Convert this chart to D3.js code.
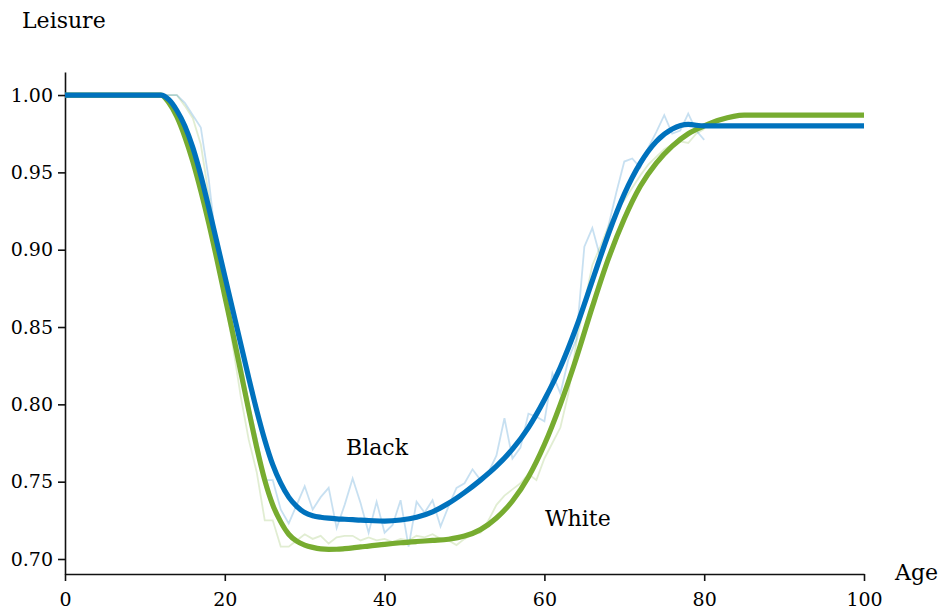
<!DOCTYPE html>
<html lang="en">
<head>
<meta charset="UTF-8">
<title>Leisure by age</title>
<script src="https://cdn.jsdelivr.net/npm/d3@7"></script>
<style>
    body { margin: 0; background: #fff; }
    svg text { font-family: "DejaVu Serif", serif; fill: #000; }
</style>
</head>
<body>
<div id="graphic"></div>
<script>
    // smooth (fitted) curves
    var smoothAges = [0, 12, 13, 14, 15, 16, 17, 18, 19, 20, 21, 22, 23, 24, 25, 26, 27, 28, 29, 30,
        31, 32, 33, 34, 35, 36, 37, 38, 40, 42, 44, 46, 48, 50, 52, 54, 56, 58, 60, 62, 64, 66, 68,
        70, 72, 74, 76, 78, 80, 82, 85, 100];
    var blackSmooth = [1.000, 1.000, 0.997, 0.990, 0.980, 0.966, 0.948, 0.927, 0.905, 0.883, 0.861,
        0.839, 0.817, 0.796, 0.777, 0.761, 0.749, 0.740, 0.734, 0.730, 0.728, 0.727, 0.7264, 0.726,
        0.7257, 0.7254, 0.7251, 0.7249, 0.7245, 0.7252, 0.727, 0.7305, 0.736, 0.743, 0.751, 0.760,
        0.771, 0.785, 0.803, 0.824, 0.850, 0.880, 0.910, 0.936, 0.956, 0.970, 0.978, 0.981, 0.980,
        0.980, 0.980, 0.980];
    var whiteSmooth = [1.000, 1.000, 0.995, 0.986, 0.973, 0.957, 0.938, 0.917, 0.894, 0.870, 0.846,
        0.821, 0.796, 0.772, 0.751, 0.735, 0.724, 0.716, 0.7115, 0.709, 0.7075, 0.7065, 0.7062,
        0.7063, 0.7067, 0.7072, 0.7078, 0.7083, 0.7095, 0.7105, 0.7113, 0.712, 0.7128, 0.7148,
        0.719, 0.7265, 0.7375, 0.753, 0.774, 0.800, 0.830, 0.863, 0.894, 0.920, 0.941, 0.956, 0.967,
        0.975, 0.980, 0.984, 0.987, 0.987];

    // raw yearly averages (faint lines), ages 0..80
    var rawAges = d3.range(0, 81);
    var blackRaw = [1, 1, 1, 1, 1, 1, 1, 1, 1, 1, 1, 1, 1, 1, 1.000, 0.995, 0.987, 0.979, 0.945, 0.900,
        0.875, 0.850, 0.828, 0.800, 0.778, 0.751, 0.751, 0.732, 0.723, 0.735, 0.747, 0.732, 0.740,
        0.746, 0.720, 0.735, 0.752, 0.736, 0.717, 0.737, 0.717, 0.722, 0.738, 0.708, 0.737, 0.730,
        0.738, 0.721, 0.734, 0.746, 0.749, 0.758, 0.751, 0.756, 0.767, 0.791, 0.765, 0.772, 0.794,
        0.792, 0.789, 0.820, 0.807, 0.829, 0.842, 0.902, 0.914, 0.895, 0.915, 0.937, 0.957, 0.959,
        0.953, 0.966, 0.976, 0.987, 0.975, 0.977, 0.988, 0.977, 0.971];
    var whiteRaw = [1, 1, 1, 1, 1, 1, 1, 1, 1, 1, 1, 1, 1, 1, 1.000, 0.993, 0.985, 0.968, 0.935, 0.900,
        0.868, 0.838, 0.805, 0.777, 0.756, 0.725, 0.725, 0.708, 0.708, 0.712, 0.716, 0.713, 0.715,
        0.710, 0.714, 0.715, 0.715, 0.712, 0.714, 0.712, 0.713, 0.711, 0.713, 0.712, 0.715, 0.714,
        0.716, 0.713, 0.712, 0.709, 0.713, 0.716, 0.717, 0.725, 0.735, 0.741, 0.745, 0.749, 0.755,
        0.751, 0.765, 0.775, 0.785, 0.807, 0.840, 0.865, 0.890, 0.902, 0.915, 0.925, 0.932, 0.940,
        0.948, 0.955, 0.960, 0.965, 0.968, 0.970, 0.969, 0.975, 0.978];

    var xTicks = [0, 20, 40, 60, 80, 100];
    var yTicks = [0.70, 0.75, 0.80, 0.85, 0.90, 0.95, 1.00];

    var blue = '#0072bd';
    var green = '#77ac30';

    var width = 948;
    var height = 611;

    var svg = d3.select('#graphic')
                .append('svg')
                .attr('width', width)
                .attr('height', height);

    var x = d3.scaleLinear().domain([0, 100]).range([65, 864]);
    var y = d3.scaleLinear().domain([0.6903, 1.0149]).range([574, 72]);

    // axes
    svg.append('g')
        .attr('transform', 'translate(0,574)')
        .call(d3.axisBottom(x).tickValues(xTicks).tickSize(7).tickSizeOuter(0).tickPadding(12));
    svg.append('g')
        .attr('transform', 'translate(65,0)')
        .call(d3.axisLeft(y).tickValues(yTicks).tickFormat(d3.format('.2f')).tickSize(7).tickSizeOuter(0).tickPadding(5));

    svg.selectAll('.domain, .tick line').attr('stroke', '#111').attr('stroke-width', 1.6);
    svg.selectAll('.tick text').style('font-size', '19px').attr('fill', '#000');

    var line = d3.line()
        .x(d => x(d[0]))
        .y(d => y(d[1]));

    // faint raw lines
    svg.append('path')
        .datum(d3.zip(rawAges, whiteRaw))
        .attr('fill', 'none')
        .attr('stroke', green)
        .attr('stroke-opacity', 0.22)
        .attr('stroke-width', 1.8)
        .attr('d', line);
    svg.append('path')
        .datum(d3.zip(rawAges, blackRaw))
        .attr('fill', 'none')
        .attr('stroke', blue)
        .attr('stroke-opacity', 0.22)
        .attr('stroke-width', 1.8)
        .attr('d', line);

    // smooth lines
    var smoothLine = d3.line()
        .curve(d3.curveMonotoneX)
        .x(d => x(d[0]))
        .y(d => y(d[1]));

    svg.append('path')
        .datum(d3.zip(smoothAges, whiteSmooth))
        .attr('fill', 'none')
        .attr('stroke', green)
        .attr('stroke-width', 5.2)
        .attr('d', smoothLine);
    svg.append('path')
        .datum(d3.zip(smoothAges, blackSmooth))
        .attr('fill', 'none')
        .attr('stroke', blue)
        .attr('stroke-width', 5.2)
        .attr('d', smoothLine);

    // labels
    svg.append('text').attr('x', 22).attr('y', 28).style('font-size', '22px').text('Leisure');
    svg.append('text').attr('x', 895).attr('y', 580).style('font-size', '22px').text('Age');
    svg.append('text').attr('x', 346).attr('y', 455).style('font-size', '22px').text('Black');
    svg.append('text').attr('x', 545).attr('y', 526).style('font-size', '22px').text('White');
</script>
</body>
</html>
